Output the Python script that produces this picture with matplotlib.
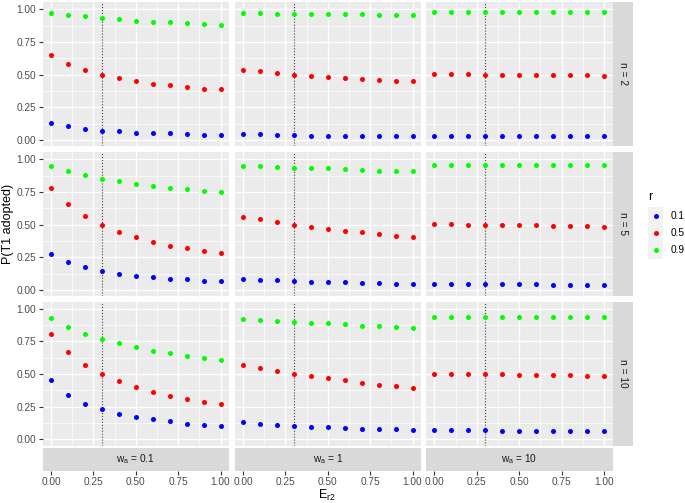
import numpy as np
import matplotlib
matplotlib.use("Agg")
import matplotlib.pyplot as plt

plt.rcParams['font.family'] = ['Liberation Sans', 'DejaVu Sans']
plt.rcParams['mathtext.fontset'] = 'custom'
plt.rcParams['mathtext.rm'] = 'Liberation Sans'

# %% data
e_r2 = [0.0, 0.1, 0.2, 0.3, 0.4, 0.5, 0.6, 0.7, 0.8, 0.9, 1.0]
r_levels = ['0.1', '0.5', '0.9']
r_colors = ['#0000FF', '#FF0000', '#00FF00']
n_levels = ['2', '5', '10']
w_levels = ['0.1', '1', '10']

# rows: r = 0.1, 0.5, 0.9
n2_w01 = [[0.133, 0.107, 0.084, 0.071, 0.066, 0.056, 0.051, 0.051, 0.046, 0.041, 0.041],
          [0.65, 0.585, 0.535, 0.50, 0.475, 0.452, 0.43, 0.42, 0.402, 0.392, 0.387],
          [0.974, 0.956, 0.946, 0.935, 0.923, 0.91, 0.905, 0.90, 0.893, 0.887, 0.882]]
n2_w1 = [[0.046, 0.046, 0.038, 0.038, 0.033, 0.033, 0.033, 0.033, 0.033, 0.028, 0.028],
         [0.536, 0.526, 0.515, 0.50, 0.49, 0.485, 0.475, 0.468, 0.462, 0.453, 0.448],
         [0.974, 0.974, 0.967, 0.967, 0.967, 0.962, 0.962, 0.962, 0.957, 0.957, 0.957]]
n2_w10 = [[0.028, 0.028, 0.028, 0.028, 0.028, 0.028, 0.028, 0.028, 0.028, 0.028, 0.028],
          [0.505, 0.503, 0.503, 0.50, 0.50, 0.497, 0.497, 0.497, 0.497, 0.497, 0.493],
          [0.98, 0.98, 0.98, 0.98, 0.98, 0.98, 0.98, 0.98, 0.98, 0.98, 0.98]]
n5_w01 = [[0.278, 0.213, 0.175, 0.142, 0.124, 0.106, 0.096, 0.086, 0.081, 0.071, 0.065],
          [0.78, 0.655, 0.565, 0.50, 0.445, 0.405, 0.37, 0.34, 0.32, 0.30, 0.28],
          [0.949, 0.911, 0.878, 0.848, 0.833, 0.813, 0.795, 0.782, 0.772, 0.759, 0.749]]
n5_w1 = [[0.083, 0.078, 0.073, 0.068, 0.063, 0.058, 0.058, 0.050, 0.050, 0.045, 0.045],
         [0.562, 0.54, 0.52, 0.50, 0.485, 0.47, 0.455, 0.442, 0.425, 0.415, 0.405],
         [0.952, 0.947, 0.942, 0.937, 0.932, 0.932, 0.925, 0.919, 0.914, 0.914, 0.909]]
n5_w10 = [[0.045, 0.045, 0.045, 0.045, 0.045, 0.045, 0.045, 0.04, 0.04, 0.04, 0.04],
          [0.505, 0.505, 0.50, 0.50, 0.50, 0.495, 0.495, 0.49, 0.49, 0.49, 0.485],
          [0.956, 0.956, 0.956, 0.956, 0.956, 0.956, 0.956, 0.956, 0.956, 0.956, 0.956]]
n10_w01 = [[0.452, 0.339, 0.273, 0.230, 0.196, 0.173, 0.153, 0.140, 0.122, 0.112, 0.107],
           [0.806, 0.666, 0.571, 0.50, 0.446, 0.40, 0.362, 0.334, 0.309, 0.286, 0.268],
           [0.926, 0.86, 0.809, 0.770, 0.737, 0.704, 0.681, 0.661, 0.638, 0.62, 0.605]]
n10_w1 = [[0.133, 0.120, 0.110, 0.105, 0.097, 0.092, 0.087, 0.082, 0.077, 0.077, 0.071],
          [0.569, 0.546, 0.523, 0.50, 0.485, 0.469, 0.454, 0.436, 0.418, 0.408, 0.395],
          [0.921, 0.916, 0.906, 0.898, 0.893, 0.888, 0.883, 0.872, 0.867, 0.860, 0.855]]
n10_w10 = [[0.071, 0.071, 0.071, 0.071, 0.066, 0.066, 0.066, 0.066, 0.066, 0.066, 0.066],
           [0.505, 0.505, 0.50, 0.50, 0.50, 0.495, 0.495, 0.49, 0.49, 0.485, 0.485],
           [0.939, 0.939, 0.939, 0.939, 0.934, 0.934, 0.934, 0.934, 0.934, 0.934, 0.934]]

panels = [[n2_w01, n2_w1, n2_w10],
          [n5_w01, n5_w1, n5_w10],
          [n10_w01, n10_w1, n10_w10]]

y_ticks = [0.0, 0.25, 0.5, 0.75, 1.0]
x_ticks = [0.0, 0.25, 0.5, 0.75, 1.0]

# %% layout (pixels, top origin)
W_PX, H_PX = 685, 503
fig = plt.figure(figsize=(6.85, 5.03), dpi=100)


def rect(x, y, w, h):
    return [x / W_PX, 1 - (y + h) / H_PX, w / W_PX, h / H_PX]


col_left = [42.5, 234.5, 426.0]
row_top = [2.0, 152.0, 301.5]
pw, ph = 186.5, 144.0

panel_bg = '#EBEBEB'
strip_bg = '#D9D9D9'
tick_col = '#4D4D4D'
small = 7.3
big = 9.0

for i, n in enumerate(n_levels):
    for j, w in enumerate(w_levels):
        ax = fig.add_axes(rect(col_left[j], row_top[i], pw, ph))
        ax.set_facecolor(panel_bg)
        for s in ax.spines.values():
            s.set_visible(False)
        ax.set_xlim(-0.05, 1.05)
        ax.set_ylim(-0.046, 1.056)
        ax.set_xticks(x_ticks)
        ax.set_yticks(y_ticks)
        ax.set_xticks([0.125, 0.375, 0.625, 0.875], minor=True)
        ax.set_yticks([0.125, 0.375, 0.625, 0.875], minor=True)
        ax.grid(which='major', color='white', lw=1.0)
        ax.grid(which='minor', color='white', lw=0.5)
        ax.set_axisbelow(True)
        ax.tick_params(which='both', bottom=False, labelbottom=False)
        ax.tick_params(which='minor', left=False)
        if j == 0:
            ax.set_yticklabels([f'{v:.2f}' for v in y_ticks])
            ax.tick_params(axis='y', which='major', length=2.75, width=0.8,
                           color='#333333', labelcolor=tick_col, labelsize=small, pad=2)
        else:
            ax.tick_params(axis='y', which='major', left=False, labelleft=False)
        ax.axvline(0.3, color='#444444', ls=':', lw=0.8, zorder=2)
        data = panels[i][j]
        for k in range(len(r_levels)):
            ax.scatter(e_r2, data[k], s=13, color=r_colors[k], lw=0, zorder=3)

# right strips
for i, n in enumerate(n_levels):
    sax = fig.add_axes(rect(612.5, row_top[i], 20.5, ph))
    sax.set_facecolor(strip_bg)
    sax.set_xticks([])
    sax.set_yticks([])
    for s in sax.spines.values():
        s.set_visible(False)
    sax.text(0.5, 0.5, 'n = ' + n, rotation=-90, ha='center', va='center',
             transform=sax.transAxes, fontsize=small, color='#1A1A1A')

# bottom strips carry the x axis
for j, w in enumerate(w_levels):
    sax = fig.add_axes(rect(col_left[j], 448.0, pw, 22.5))
    sax.set_facecolor(strip_bg)
    for s in sax.spines.values():
        s.set_visible(False)
    sax.set_xlim(-0.05, 1.05)
    sax.set_yticks([])
    sax.set_xticks(x_ticks)
    sax.set_xticklabels([f'{v:.2f}' for v in x_ticks])
    sax.tick_params(axis='x', length=2.75, width=0.8, color='#333333',
                    labelcolor=tick_col, labelsize=small, pad=2)
    sax.text(0.5, 0.5, r'$\mathrm{w_a}$ = ' + w, ha='center', va='center',
             transform=sax.transAxes, fontsize=small, color='#1A1A1A')

fig.text(327 / W_PX, 1 - 495 / H_PX, r'$\mathrm{E_{r2}}$', ha='center', va='center', fontsize=big)
fig.text(8 / W_PX, 1 - 224 / H_PX, 'P(T1 adopted)', rotation=90, ha='center', va='center', fontsize=big)

# legend
fig.text(648 / W_PX, 1 - 197 / H_PX, 'r', ha='left', va='center', fontsize=big)
lax = fig.add_axes(rect(648.0, 207.0, 15.0, 52.0))
lax.set_facecolor('#F2F2F2')
for s in lax.spines.values():
    s.set_visible(False)
lax.set_xticks([])
lax.set_yticks([])
lax.set_xlim(-1, 1)
lax.set_ylim(len(r_levels) - 0.5, -0.5)
for k, lab in enumerate(r_levels):
    lax.scatter([0], [k], s=13, color=r_colors[k], lw=0)
    fig.text(670.5 / W_PX, 1 - (207 + 52 / 3 * (k + 0.5)) / H_PX, lab,
             ha='left', va='center', fontsize=small)

fig.savefig('out.png', dpi=100)
